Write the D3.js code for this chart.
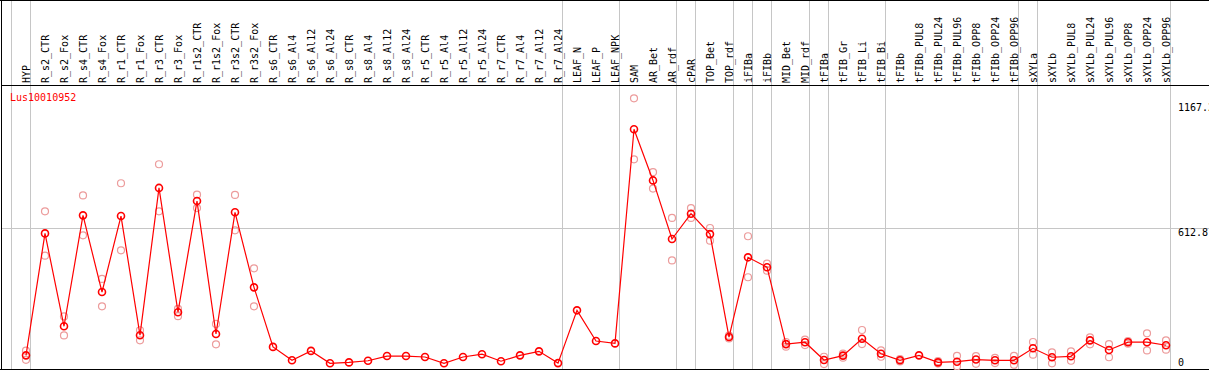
<!DOCTYPE html>
<html>
<head>
<meta charset="utf-8">
<script src="https://cdn.jsdelivr.net/npm/d3@7"></script>
<style>
	body { margin: 0; background: white; }
	svg { display: block; }
	text { font-family: "DejaVu Sans Mono", monospace; font-size: 10px; }
</style>
</head>
<body>
<div id="chart"></div>
<script>
let geneName = "Lus10010952";

let samples = ["HYP", "R_s2_CTR", "R_s2_Fox", "R_s4_CTR", "R_s4_Fox", "R_r1_CTR", "R_r1_Fox",
	"R_r3_CTR", "R_r3_Fox", "R_r1s2_CTR", "R_r1s2_Fox", "R_r3s2_CTR", "R_r3s2_Fox",
	"R_s6_CTR", "R_s6_Al4", "R_s6_Al12", "R_s6_Al24", "R_s8_CTR", "R_s8_Al4", "R_s8_Al12", "R_s8_Al24",
	"R_r5_CTR", "R_r5_Al4", "R_r5_Al12", "R_r5_Al24", "R_r7_CTR", "R_r7_Al4", "R_r7_Al12", "R_r7_Al24",
	"LEAF_N", "LEAF_P", "LEAF_NPK", "SAM", "AR_Bet", "AR_rdf", "cPAR", "TOP_Bet", "TOP_rdf",
	"iFIBa", "iFIBb", "MID_Bet", "MID_rdf", "tFIBa", "tFIB_Gr", "tFIB_Li", "tFIB_Bi",
	"tFIBb", "tFIBb_PUL8", "tFIBb_PUL24", "tFIBb_PUL96", "tFIBb_OPP8", "tFIBb_OPP24", "tFIBb_OPP96",
	"sXYLa", "sXYLb", "sXYLb_PUL8", "sXYLb_PUL24", "sXYLb_PUL96", "sXYLb_OPP8", "sXYLb_OPP24", "sXYLb_OPP96"];

// mean expression per sample
let means = [71, 591, 195, 668, 341, 665, 157, 785, 255, 729, 162, 681, 361,
	107, 50, 90, 37, 41, 48, 68, 68, 64, 37, 64, 76, 46, 71, 88, 38,
	263, 132, 122, 1035, 817, 567, 675, 588, 149, 489, 447, 119, 127,
	51, 70, 142, 78, 50, 71, 41, 44, 53, 50, 50,
	101, 63, 67, 135, 94, 127, 127, 114];

// single replicates (light circles)
let replicates = [[91, 52], [685, 496], [237, 156], [753, 583], [397, 280], [805, 519], [178, 135],
	[886, 685], [269, 238], [756, 699], [205, 118], [755, 604], [442, 280],
	[], [], [], [], [], [], [], [], [], [], [], [], [], [], [], [],
	[], [], [], [1167.2, 907], [852, 782], [657, 476], [699, 657], [614, 560], [155, 143],
	[579, 404], [462, 432], [128, 108], [138, 115], [65, 34], [78, 61], [179, 119], [92, 65],
	[55, 45], [], [46, 36], [69, 24], [68, 35], [60, 38], [69, 31],
	[128, 74], [84, 37], [88, 48], [148, 118], [119, 63], [132, 121], [165, 92], [135, 95]];

// index of last sample in each tissue group
let groupEnds = [0, 28, 31, 34, 35, 37, 38, 39, 41, 42, 45, 52, 53, 60];

let axisLabels = ["1167.2", "612.8", "0"];
let axisValues = [1167.2, 612.8, 0];
let yMax = 1225.6;

const width = 1209;
const height = 370;
const headerBottom = 85;

let svg = d3.select("#chart")
	.append("svg")
	.attr("width", width)
	.attr("height", height);

let x = d3.scaleLinear()
	.domain([0, samples.length - 1])
	.range([26, 1166]);

let y = d3.scaleLinear()
	.domain([0, yMax])
	.range([372, 84.6]);

// vertical group separators
let sepX = [-1].concat(groupEnds);
svg.selectAll("line.sep")
	.data(sepX)
	.enter()
	.append("line")
	.attr("class", "sep")
	.attr("x1", function(d) { return Math.round(x(d)) + 4.5; })
	.attr("x2", function(d) { return Math.round(x(d)) + 4.5; })
	.attr("y1", 0)
	.attr("y2", height)
	.attr("stroke", "#c6c6c6")
	.attr("stroke-width", 1);

// middle gridline
svg.append("line")
	.attr("x1", 1)
	.attr("x2", width)
	.attr("y1", Math.round(y(612.8)) + 0.5)
	.attr("y2", Math.round(y(612.8)) + 0.5)
	.attr("stroke", "#c6c6c6");

// frame
svg.append("line")
	.attr("x1", 0).attr("x2", width)
	.attr("y1", 0.5).attr("y2", 0.5)
	.attr("stroke", "black");
svg.append("line")
	.attr("x1", 1.5).attr("x2", 1.5)
	.attr("y1", 0).attr("y2", height)
	.attr("stroke", "black");
svg.append("line")
	.attr("x1", 0).attr("x2", width)
	.attr("y1", 369.5).attr("y2", 369.5)
	.attr("stroke", "black");
svg.append("line")
	.attr("x1", 1).attr("x2", width)
	.attr("y1", headerBottom + 0.5).attr("y2", headerBottom + 0.5)
	.attr("stroke", "black");

// sample names in header
svg.selectAll("text.sample")
	.data(samples)
	.enter()
	.append("text")
	.attr("class", "sample")
	.attr("transform", function(d, i) {
		return "translate(" + (x(i) + 4) + "," + 83 + ") rotate(-90)";
	})
	.attr("fill", "black")
	.text(function(d) { return d; });

// gene name
svg.append("text")
	.attr("x", 10)
	.attr("y", 101)
	.attr("fill", "red")
	.text(geneName);

// axis labels on the right
let labelY = [110.5, y(612.8) + 7.5, y(0) - 6.5];
svg.selectAll("text.axis")
	.data(axisLabels)
	.enter()
	.append("text")
	.attr("class", "axis")
	.attr("x", 1178)
	.attr("y", function(d, i) { return labelY[i]; })
	.attr("fill", "black")
	.text(function(d) { return d; });

// replicate circles
let repPoints = [];
replicates.forEach(function(reps, i) {
	reps.forEach(function(v) { repPoints.push({i: i, v: v}); });
});

svg.selectAll("circle.rep")
	.data(repPoints)
	.enter()
	.append("circle")
	.attr("class", "rep")
	.attr("cx", function(d) { return x(d.i); })
	.attr("cy", function(d) { return y(d.v); })
	.attr("r", 3.5)
	.attr("fill", "none")
	.attr("stroke", "#ec9c9c")
	.attr("stroke-width", 1.2);

// mean line
let line = d3.line()
	.x(function(d, i) { return x(i); })
	.y(function(d) { return y(d); });

svg.append("path")
	.datum(means)
	.attr("d", line)
	.attr("fill", "none")
	.attr("stroke", "red")
	.attr("stroke-width", 1.2);

svg.selectAll("circle.mean")
	.data(means)
	.enter()
	.append("circle")
	.attr("class", "mean")
	.attr("cx", function(d, i) { return x(i); })
	.attr("cy", function(d) { return y(d); })
	.attr("r", 3.5)
	.attr("fill", "none")
	.attr("stroke", "red")
	.attr("stroke-width", 1.6);
</script>
</body>
</html>
